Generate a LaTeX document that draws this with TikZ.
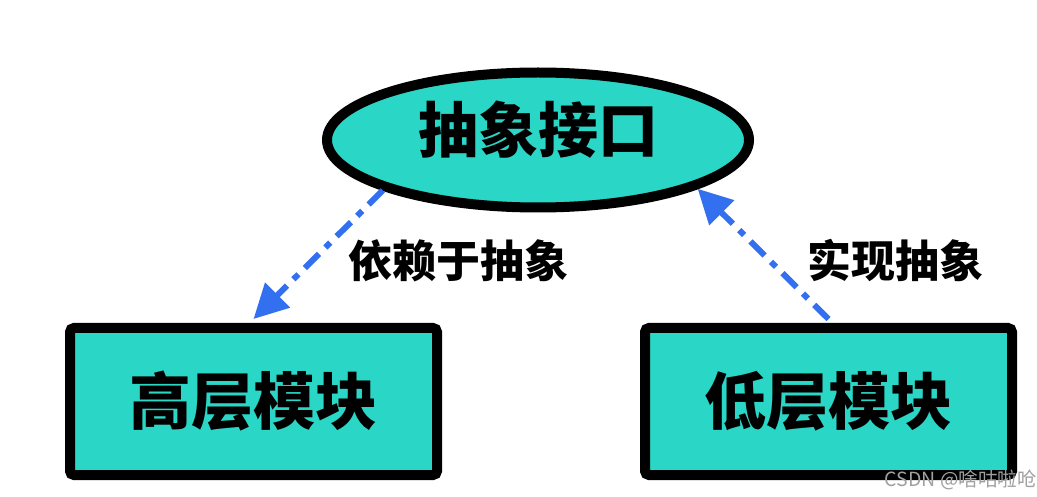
\documentclass[tikz,border=0pt]{standalone}
\usepackage{fontspec}
\setmainfont{Noto Sans CJK SC}
\newfontfamily\cjk{Noto Sans CJK SC}
\usetikzlibrary{shapes.geometric,arrows.meta}
\definecolor{teal1}{RGB}{42,214,198}
\definecolor{arrblue}{RGB}{51,112,240}
\definecolor{wmgrey}{RGB}{160,160,160}
\tikzset{
  modbox/.style={draw=black, line width=10pt, fill=teal1, rounded corners=4pt,
    minimum width=367pt, minimum height=147pt, inner sep=0pt,
    font=\cjk\bfseries\fontsize{62}{62}\selectfont},
  absell/.style={ellipse, draw=black, line width=10pt, fill=teal1,
    minimum width=422pt, minimum height=135pt, inner sep=0pt,
    font=\cjk\bfseries\fontsize{60}{60}\selectfont},
  arr/.style={draw=arrblue, line width=6pt,
    dash pattern=on 20pt off 9pt on 7pt off 9pt,
    -{Triangle[length=34pt,width=34pt]}},
  lbl/.style={font=\cjk\bfseries\fontsize{44}{44}\selectfont, inner sep=0pt},
  wm/.style={font=\cjk\fontsize{19.5}{19.5}\selectfont, text=wmgrey, inner sep=0pt}
}
\begin{document}
\begin{tikzpicture}[x=1pt,y=-1pt]
\useasboundingbox[fill=white] (0,0) rectangle (1037,497);
\node[absell] (top) at (538,140) {\raisebox{26pt}{抽象接口}};
\node[modbox] (high) at (253.5,401.5) {高层模块};
\node[modbox] (low) at (828.5,401.5) {低层模块};
\draw[arr] (top.198) -- ([yshift=4pt]high.north);
\draw[arr] ([yshift=4pt]low.north) -- (top.343);
\node[lbl] (l1) at (458,261) {依赖于抽象};
\node[lbl] (l2) at (895,260) {实现抽象};
\node[wm, anchor=east] (w) at (1037,480) {CSDN @啥咕啦呛};
\end{tikzpicture}
\end{document}
